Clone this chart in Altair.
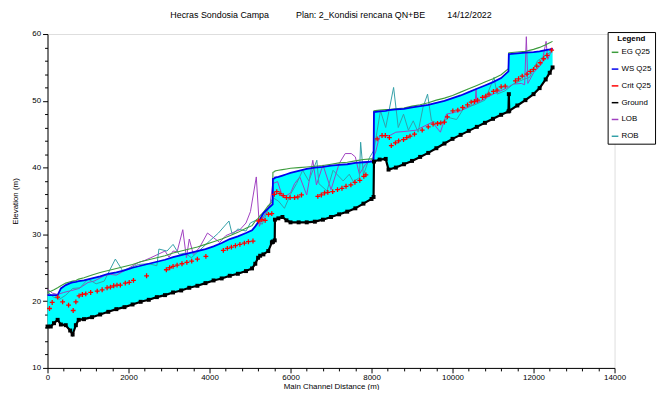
import altair as alt
import pandas as pd

# ---------------- data ----------------
stations = [0, 80, 160, 250, 330, 450, 560, 620, 700, 770, 900, 1100, 1300, 1500, 1700, 1900,
            2100, 2300, 2500, 2700, 2900, 3100, 3300, 3500, 3700, 3900, 4100, 4300, 4500, 4700,
            4900, 5050, 5130, 5200, 5250, 5330, 5450, 5540, 5560, 5565, 5610, 5615, 5700, 5800,
            5900, 6000, 6200, 6400, 6600, 6800, 7000, 7200, 7400, 7600, 7800, 8000, 8050, 8060,
            8200, 8350, 8420, 8600, 8800, 9000, 9200, 9400, 9600, 9800, 10000, 10200, 10400,
            10600, 10800, 11000, 11200, 11380, 11390, 11400, 11600, 11800, 12000, 12150, 12300,
            12400, 12470]
ground = [16.2, 16.2, 16.7, 17.2, 16.5, 16.4, 15.6, 15.0, 16.4, 17.2, 17.3, 17.6, 18.0, 18.4, 18.8,
          19.1, 19.5, 19.9, 20.2, 20.6, 20.9, 21.3, 21.6, 22.0, 22.3, 22.7, 23.1, 23.4, 23.8, 24.1,
          24.5, 24.9, 25.6, 26.5, 26.8, 27.0, 27.5, 28.8, 28.9, 28.9, 29.1, 32.2, 32.4, 32.6, 32.1,
          31.8, 31.8, 31.8, 31.9, 32.2, 32.6, 33.0, 33.4, 33.9, 34.6, 35.3, 35.6, 40.9, 41.2, 41.3,
          39.7, 40.0, 40.5, 41.0, 41.6, 42.2, 42.9, 43.6, 44.3, 44.9, 45.5, 46.1, 46.7, 47.3, 47.9,
          48.4, 51.0, 48.5, 49.3, 50.1, 51.0, 51.9, 53.2, 54.2, 55.0]
ws = [20.9, 20.9, 20.9, 20.9, 21.9, 22.4, 22.7, 22.8, 22.9, 23.0, 23.1, 23.4, 23.7, 24.1, 24.3,
      24.6, 25.0, 25.3, 25.6, 25.9, 26.2, 26.6, 26.9, 27.2, 27.5, 27.8, 28.2, 28.7, 29.3, 29.7,
      30.2, 30.6, 31.2, 31.8, 32.3, 33.2, 33.9, 34.4, 34.5, 38.3, 38.4, 38.5, 38.6, 38.8, 39.0,
      39.2, 39.5, 39.8, 40.0, 40.1, 40.3, 40.4, 40.5, 40.7, 40.8, 40.9, 40.9, 48.3, 48.4, 48.5,
      48.6, 48.7, 48.8, 49.0, 49.2, 49.4, 49.7, 50.0, 50.4, 50.8, 51.3, 51.8, 52.3, 52.8, 53.4,
      54.4, 57.0, 57.0, 57.1, 57.2, 57.3, 57.4, 57.6, 57.7, 57.8]
eg = [21.3, 21.5, 21.7, 22.0, 22.3, 22.7, 22.9, 23.0, 23.1, 23.3, 23.5, 23.9, 24.3, 24.6, 24.9,
      25.2, 25.5, 25.9, 26.2, 26.5, 26.8, 27.2, 27.5, 27.8, 28.1, 28.5, 28.9, 29.3, 29.8, 30.3,
      30.9, 31.3, 32.0, 32.4, 32.8, 33.3, 34.3, 34.8, 35.0, 39.3, 39.4, 39.5, 39.6, 39.7, 39.8,
      39.9, 40.0, 40.1, 40.2, 40.3, 40.5, 40.7, 40.8, 41.0, 41.2, 41.3, 41.3, 48.5, 48.6, 48.7,
      48.7, 48.8, 48.9, 49.2, 49.4, 49.7, 50.1, 50.4, 50.8, 51.3, 51.8, 52.3, 52.8, 53.3, 53.9,
      54.8, 57.2, 57.2, 57.3, 57.4, 57.7, 58.0, 58.4, 58.7, 58.9]

crit_sta = [49, 115, 251, 373, 520, 634, 700, 780, 861, 944, 1066, 1227, 1349, 1471, 1554, 1634,
            1715, 1798, 1920, 2017, 2122, 2446, 2934, 3015, 3100, 3200, 3320, 3440, 3560, 3700,
            3910, 4341, 4440, 4540, 4640, 4750, 4860, 4960, 5073, 5212, 5293, 5374, 5455, 5537,
            5600, 5660, 5740, 5820, 5900, 5990, 6100, 6180, 6270, 6674, 6760, 6840, 6920, 7040,
            7160, 7270, 7370, 7490, 7590, 7710, 7810, 7860, 8139, 8260, 8340, 8440, 8488, 8590,
            8670, 8790, 8870, 8950, 9060, 9251, 9400, 9520, 9630, 9710, 9800, 9870, 10007, 10130,
            10250, 10370, 10460, 10540, 10620, 10740, 10820, 10900, 11010, 11100, 11200, 11300,
            11553, 11630, 11720, 11837, 11920, 12000, 12080, 12163, 12250, 12330, 12447]
crit_el = [18.9, 19.8, 20.6, 19.9, 19.4, 18.6, 19.9, 20.8, 21.0, 21.1, 21.3, 21.5, 21.7, 22.0, 22.1,
           22.3, 22.4, 22.4, 22.7, 22.8, 23.1, 23.8, 24.7, 25.0, 25.2, 25.4, 25.6, 25.8, 26.0, 26.3,
           26.7, 27.6, 27.9, 28.1, 28.3, 28.5, 28.7, 28.9, 29.0, 32.0, 32.2, 32.1, 33.0, 33.1,
           36.0, 36.4, 36.1, 35.8, 35.5, 35.5, 35.5, 35.6, 35.9, 35.7, 35.9, 36.2, 36.3, 36.4,
           36.7, 36.9, 37.2, 37.4, 37.8, 38.1, 38.7, 38.9, 44.3, 44.8, 44.8, 44.5, 43.3, 43.7,
           44.0, 44.2, 44.5, 44.7, 45.0, 45.6, 46.1, 46.5, 46.6, 46.7, 46.8, 47.6, 48.5, 48.6,
           49.0, 49.4, 49.8, 49.9, 50.1, 50.5, 50.7, 51.0, 51.4, 51.6, 52.1, 52.2,
           53.0, 53.3, 53.7, 54.0, 54.4, 54.7, 55.2, 55.7, 56.3, 56.8, 57.6]

lob_sta = [0, 120, 250, 400, 600, 780, 1000, 1150, 1400, 1550, 1700, 1850, 2250, 2400, 2550, 2900,
           3000, 3100, 3200, 3340, 3430, 3500, 3600, 3750, 3950, 4100, 4250, 4400, 4550, 4750,
           4900, 5010, 5155, 5230, 5300, 5410, 5500, 5560, 5680, 5800, 5900, 6000, 6100, 6230,
           6400, 6550, 6640, 6800, 7000, 7200, 7350, 7500, 7600, 7700, 7850, 8000, 8100, 8200,
           8450, 8600, 8800, 9100, 9300, 9500, 9700, 9850, 10200, 10450, 10560, 10580, 10600,
           10700, 11000, 11300, 11500, 11700, 11780, 11822, 11860, 12000, 12200, 12310, 12350,
           12470]
lob_el = [21.8, 21.2, 21.0, 21.3, 21.6, 21.9, 22.8, 23.0, 23.8, 24.0, 23.9, 24.4, 25.8, 26.1, 26.5,
          27.5, 26.6, 27.5, 27.4, 30.7, 26.5, 29.3, 27.0, 28.0, 30.2, 29.5, 28.8, 29.8, 30.2, 30.7,
          31.7, 33.4, 38.6, 31.2, 32.2, 33.5, 34.7, 37.6, 37.9, 35.7, 35.8, 36.2, 37.6, 38.6,
          35.9, 41.1, 37.4, 40.4, 36.7, 40.6, 42.1, 42.1, 41.6, 39.0, 40.5, 41.1, 42.3, 44.8,
          44.8, 45.3, 45.4, 45.6, 46.2, 46.8, 45.3, 48.0, 48.5, 49.2, 49.6, 51.8, 49.7,
          50.0, 51.0, 51.8, 52.5, 52.6, 52.4, 59.6, 52.6, 54.2, 55.5, 58.9, 56.2,
          57.9]

rob_sta = [0, 150, 300, 450, 620, 800, 1000, 1200, 1400, 1675, 1850, 2050, 2250, 2500, 2700, 2750,
           2950, 3100, 3250, 3400, 3550, 3788, 4000, 4220, 4480, 4560, 4700, 4900, 5008, 5170,
           5300, 5400, 5560, 5700, 5850, 6000, 6150, 6300, 6450, 6650, 6700, 6900, 7050, 7300,
           7450, 7550, 7700, 7731, 7800, 7950, 8060, 8220, 8350, 8545, 8660, 8790, 8910, 9030,
           9150, 9270, 9383, 9480, 9700, 9900, 10100, 10293, 10550, 10800, 11024, 11100, 11300,
           11500, 11750, 11900, 12100, 12300, 12470]
rob_el = [21.4, 20.6, 20.3, 20.9, 21.9, 22.0, 23.3, 22.6, 23.0, 26.3, 24.6, 25.0, 25.5, 25.6, 25.3,
          27.8, 27.5, 28.5, 27.0, 27.2, 26.5, 27.8, 29.0, 30.2, 32.0, 30.0, 30.8, 30.5, 31.7, 32.2,
          31.5, 33.0, 35.5, 35.0, 33.9, 36.0, 37.6, 39.6, 38.0, 41.1, 37.6, 36.5, 39.6, 38.0,
          39.0, 37.9, 38.5, 43.8, 38.9, 41.5, 42.6, 48.5, 46.0, 52.0, 46.0, 48.0, 45.6, 47.0,
          45.3, 49.0, 51.0, 47.0, 46.5, 47.5, 47.2, 49.0, 49.4, 50.1, 53.5, 51.0, 51.5,
          52.5, 53.2, 53.5, 56.0, 56.8, 57.5]

series_names = ["EG Q25", "WS Q25", "Crit Q25", "Ground", "LOB", "ROB"]
series_colors = ["#3c9c3c", "#0000ee", "#ff0000", "#000000", "#a040c0", "#33a0a8"]

title_text = ("Hecras Sondosia Campa" + "\u00a0" * 11 + "Plan: 2_Kondisi rencana QN+BE"
              + "\u00a0" * 9 + "14/12/2022")

# ---------------- chart ----------------
FONT = "Liberation Sans"

prof = pd.DataFrame({"sta": stations, "ground": ground, "ws": ws, "eg": eg})
crit = pd.DataFrame({"sta": crit_sta, "el": crit_el})
lob = pd.DataFrame({"sta": lob_sta, "el": lob_el})
rob = pd.DataFrame({"sta": rob_sta, "el": rob_el})

xscale = alt.Scale(domain=[0, 14000], nice=False, zero=False)
yscale = alt.Scale(domain=[10, 60], nice=False, zero=False)

xaxis = alt.Axis(
    values=list(range(0, 14001, 400)),
    labelExpr="datum.value % 2000 === 0 ? datum.label : ''",
    format="d", grid=False, domainColor="black", tickColor="black",
    tickSize={"condition": {"test": "datum.value % 2000 === 0", "value": 5}, "value": 3},
    labelFont=FONT, labelFontSize=8, labelColor="black", labelPadding=1,
    labelFlush=False, labelOverlap=False,
    titleFont=FONT, titleFontSize=8, titleFontWeight="normal", titleColor="black",
    titlePadding=1,
)
yaxis = alt.Axis(
    values=list(range(10, 61, 2)),
    labelExpr="datum.value % 10 === 0 ? datum.label : ''",
    format="d", grid=False, domainColor="black", tickColor="black",
    tickSize={"condition": {"test": "datum.value % 10 === 0", "value": 5}, "value": 3},
    labelFont=FONT, labelFontSize=8, labelColor="black", labelPadding=2,
    labelOverlap=False,
    titleFont=FONT, titleFontSize=8, titleFontWeight="normal", titleColor="black",
    titlePadding=12,
)

legend = alt.Legend(
    title="Legend", orient="none", legendX=567, legendY=-2, direction="vertical",
    symbolType="stroke", symbolSize=45, symbolStrokeWidth=1.5,
    labelFont=FONT, labelFontSize=8, labelColor="black", labelOffset=2,
    titleFont=FONT, titleFontSize=8, titleFontWeight="bold", titleColor="black",
    titleAnchor="middle", titlePadding=5,
    strokeColor="black", fillColor="white", padding=3, rowPadding=8, cornerRadius=0,
)
color = alt.Color("series:N", scale=alt.Scale(domain=series_names, range=series_colors),
                  legend=legend)


def X():
    return alt.X("sta:Q", scale=xscale, axis=xaxis, title="Main Channel Distance (m)")


def Y(field):
    return alt.Y(f"{field}:Q", scale=yscale, axis=yaxis, title="Elevation (m)")


area = alt.Chart(prof).mark_area(color="#00ffff", opacity=1).encode(
    x=X(), y=Y("ws"), y2="ground:Q")


def line(data, field, name, width):
    return alt.Chart(data).transform_calculate(series=f"'{name}'").mark_line(
        strokeWidth=width).encode(x=X(), y=Y(field), color=color)


lob_l = line(lob, "el", "LOB", 1)
rob_l = line(rob, "el", "ROB", 1)
eg_l = line(prof, "eg", "EG Q25", 1.1)
ws_l = line(prof, "ws", "WS Q25", 1.8)
ground_l = line(prof, "ground", "Ground", 2.2)

crit_p = alt.Chart(crit).transform_calculate(series="'Crit Q25'").mark_point(
    shape="M-1,0L1,0M0,-1L0,1", size=24, filled=False, strokeWidth=1.3, opacity=1
).encode(x=X(), y=Y("el"), color=color)

ground_p = alt.Chart(prof).transform_calculate(series="'Ground'").mark_point(
    shape="square", size=16, filled=True, opacity=1
).encode(x=X(), y=Y("ground"), color=color)

chart = alt.layer(area, lob_l, rob_l, eg_l, ws_l, crit_p, ground_l, ground_p).properties(
    width=574, height=338,
    autosize=alt.AutoSizeParams(type="none"),
    padding={"left": 40, "top": 24, "right": 45, "bottom": 20},
    title=alt.Title(text=title_text, font=FONT, fontSize=9, fontWeight="normal",
                    color="black", anchor="middle", offset=10),
).configure_view(stroke=None).configure(background="white")

chart.save("out.html", embed_options={"renderer": "svg", "actions": False})
